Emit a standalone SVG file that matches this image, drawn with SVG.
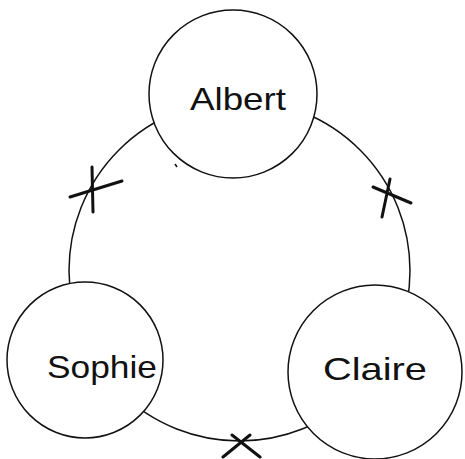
<svg xmlns="http://www.w3.org/2000/svg" width="465" height="459" viewBox="0 0 465 459">
<style>
.ring{fill:none;stroke:#111;stroke-width:1.5}
.node{fill:#fff;stroke:#111;stroke-width:1.5}
.lbl{font-family:"Liberation Sans","DejaVu Sans",sans-serif;font-size:32px;fill:#111;text-anchor:start}
.x{stroke:#111;stroke-width:3;stroke-linecap:round;fill:none}
</style>
<rect width="465" height="459" fill="#fff"/>
<g id="connectors">
<circle class="ring" cx="239.5" cy="270.5" r="170.5"/>
<path class="x" d="M92,167 L93,212 M70,197 L122,181"/>
<path class="x" d="M373,187 L411,203 M390,179 L382,217"/>
<path class="x" d="M232,435 L260,457 M250,435 L223,457"/>
</g>
<g id="albert">
<circle class="node" cx="233" cy="94" r="84"/>
<line x1="175" y1="164" x2="177" y2="167" stroke="#111" stroke-width="1.5"/>
<text class="lbl" x="190" y="110" textLength="96" lengthAdjust="spacingAndGlyphs">Albert</text>
</g>
<g id="sophie">
<circle class="node" cx="85" cy="360" r="78"/>
<text class="lbl" x="47" y="378" textLength="110" lengthAdjust="spacingAndGlyphs">Sophie</text>
</g>
<g id="claire">
<circle class="node" cx="375" cy="372" r="87"/>
<text class="lbl" x="323" y="380" textLength="104" lengthAdjust="spacingAndGlyphs">Claire</text>
</g>
</svg>
